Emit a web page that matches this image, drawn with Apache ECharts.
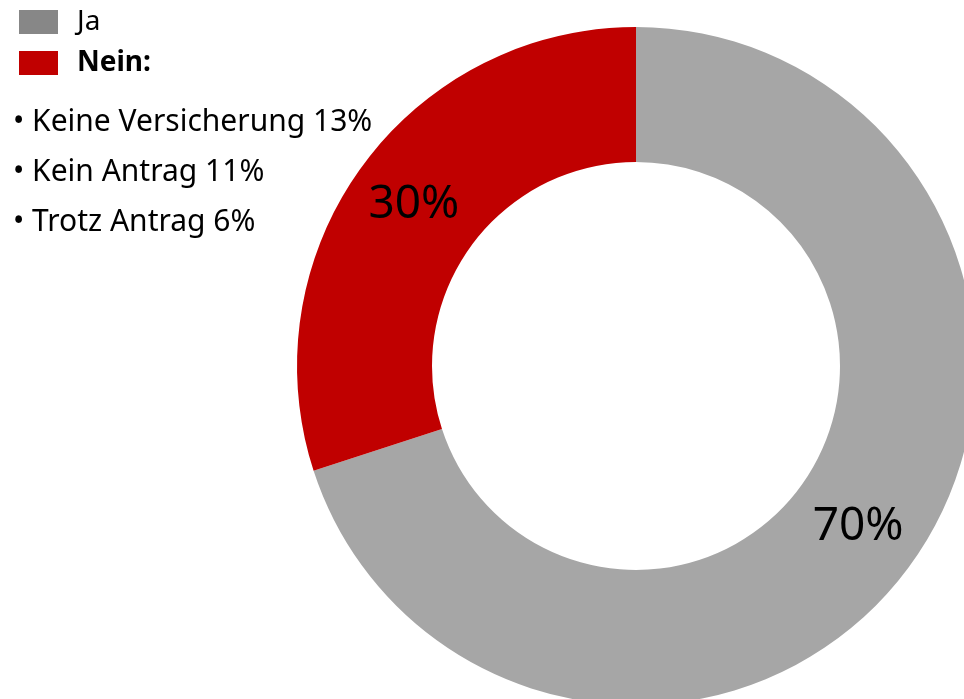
<!DOCTYPE html>
<html>
<head>
<meta charset="utf-8">
<script src="https://cdn.jsdelivr.net/npm/echarts@6/dist/echarts.min.js"></script>
<style>
  html, body { margin: 0; padding: 0; background: #fff; }
  #chart { width: 964px; height: 699px; }
</style>
</head>
<body>
<div id="chart"></div>
<script>
// Antworten (Ja / Nein) und Anteile in Prozent
const answers = ['Ja', 'Nein'];
const shares = [70, 30];
const ringColors = ['#a6a6a6', '#c00000'];
const legendColors = ['#878787', '#c00000'];

// Aufschlüsselung der Nein-Antworten
const neinReasons = ['Keine Versicherung', 'Kein Antrag', 'Trotz Antrag'];
const neinShares = [13, 11, 6];

const chart = echarts.init(document.getElementById('chart'));

const font = "'Noto Sans', sans-serif";

const option = {
  animation: false,
  legend: {
    orient: 'vertical',
    left: 14,
    top: 3,
    itemWidth: 39,
    itemHeight: 24,
    itemGap: 13,
    selectedMode: false,
    data: answers.map((name, i) => ({
      name: name,
      icon: 'rect',
      itemStyle: { color: legendColors[i] }
    })),
    formatter: (name) => name === 'Nein' ? '{b|' + name + ':}' : '{n|' + name + '}',
    textStyle: {
      fontFamily: font,
      fontSize: 28,
      color: '#000',
      padding: [0, 0, 0, 14],
      rich: {
        n: { fontFamily: font, fontSize: 28, color: '#000' },
        b: { fontFamily: font, fontSize: 28, fontWeight: 'bold', color: '#000' }
      }
    }
  },
  title: {
    left: 8,
    top: 92,
    text: neinReasons.map((r, i) => '\u2022 ' + r + ' ' + neinShares[i] + '%').join('\n'),
    textStyle: {
      fontFamily: font,
      fontSize: 30,
      fontWeight: 'normal',
      color: '#000',
      lineHeight: 50
    }
  },
  series: [{
    type: 'pie',
    center: [636, 366],
    radius: [204, 339],
    startAngle: 90,
    clockwise: true,
    avoidLabelOverlap: false,
    data: answers.map((name, i) => ({
      name: name,
      value: shares[i],
      itemStyle: { color: ringColors[i] }
    })),
    itemStyle: { borderWidth: 0 },
    label: {
      show: true,
      position: 'inside',
      formatter: '{c}%',
      fontFamily: font,
      fontSize: 46,
      color: '#000',
      padding: [6, 0, 0, 0]
    },
    labelLine: { show: false },
    emphasis: { disabled: true }
  }]
};

chart.setOption(option);
</script>
</body>
</html>
